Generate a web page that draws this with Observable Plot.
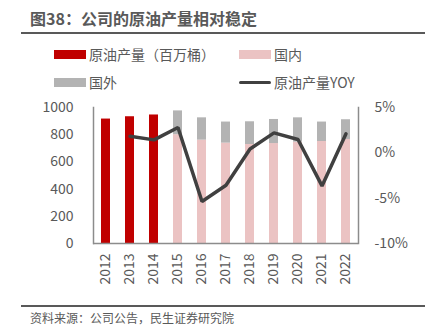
<!DOCTYPE html>
<html>
<head>
<meta charset="utf-8">
<script src="https://cdn.jsdelivr.net/npm/d3@7"></script>
<script src="https://cdn.jsdelivr.net/npm/@observablehq/plot@0.6"></script>
<style>
  body { margin: 0; background: #fff; }
  #wrap { position: relative; width: 425px; height: 325px; font-family: "Noto Sans CJK SC", "Noto Sans", sans-serif; color: #595959; overflow: hidden; }
  .abs { position: absolute; white-space: nowrap; }
  #title { left: 30px; top: 6px; font-size: 16px; font-weight: bold; color: #595959; line-height: 24px; }
  .hr { position: absolute; left: 21px; width: 404px; height: 0; border-top: 2px solid #595959; }
  .lg { position: absolute; font-size: 14px; line-height: 20px; color: #595959; }
  .sw { position: absolute; width: 32px; }
  #caption { left: 30px; top: 309px; font-size: 12px; line-height: 18px; color: #595959; }
  #chart { position: absolute; left: 0; top: 90px; }
</style>
</head>
<body>
<div id="wrap">
  <div id="title" class="abs"></div>
  <div class="hr" style="top:32px"></div>
  <div id="legend"></div>
  <div id="chart"></div>
  <div class="hr" style="top:305px"></div>
  <div id="caption" class="abs"></div>
</div>
<script>
const titleText = "图38：公司的原油产量相对稳定";
const captionText = "资料来源：公司公告，民生证券研究院";
const years = ["2012","2013","2014","2015","2016","2017","2018","2019","2020","2021","2022"];
// crude oil output (million barrels), only given as a single total for 2012-2014
const totalOutput = [915, 932, 945, null, null, null, null, null, null, null, null];
const domestic = [null, null, null, 800, 760, 738, 728, 735, 745, 750, 765];
const overseas = [null, null, null, 175, 164, 155, 167, 177, 179, 143, 145];
// YoY growth of crude output (%)
const yoy = [null, 1.84, 1.43, 2.8, -5.36, -3.58, 0.43, 2.2, 1.47, -3.65, 2.1];
const leftTicks = [0, 200, 400, 600, 800, 1000];
const rightTicks = [-10, -5, 0, 5];
const seriesNames = ["原油产量（百万桶）", "国内", "国外", "原油产量YOY"];
const colors = {red: "#C00000", pink: "#EBC3C3", gray: "#B3B3B3", line: "#404040", axis: "#8C8C8C", text: "#595959"};

document.getElementById("title").textContent = titleText;
document.getElementById("caption").textContent = captionText;

// legend
const legendItems = [
  {name: seriesNames[0], color: colors.red, type: "rect", x: 54, y: 54},
  {name: seriesNames[1], color: colors.pink, type: "rect", x: 239, y: 54},
  {name: seriesNames[2], color: colors.gray, type: "rect", x: 54, y: 82},
  {name: seriesNames[3], color: colors.line, type: "line", x: 239, y: 82}
];
const lg = document.getElementById("legend");
for (const it of legendItems) {
  const sw = document.createElement("div");
  sw.className = "sw";
  const h = it.type === "rect" ? 9 : 3;
  sw.style.left = it.x + "px";
  sw.style.top = (it.y - h / 2) + "px";
  sw.style.height = h + "px";
  sw.style.background = it.color;
  if (it.type === "line") sw.style.borderRadius = "2px";
  lg.appendChild(sw);
  const t = document.createElement("div");
  t.className = "lg";
  t.style.left = (it.x + 35) + "px";
  t.style.top = (it.y - 10) + "px";
  t.textContent = it.name;
  lg.appendChild(t);
}

const rows = years.map((year, i) => ({year, total: totalOutput[i], dom: domestic[i], ovs: overseas[i], yoy: yoy[i]}));
// map the right (percent) axis onto the left value scale: -10% -> 0, 5% -> 1000
const pctToY = p => (p + 10) / 15 * 1000;
const yToPct = v => Math.round(v * 15 / 1000 - 10);

const chart = Plot.plot({
  width: 425,
  height: 210,
  marginLeft: 93,
  marginRight: 67,
  marginTop: 17,
  marginBottom: 57,
  style: {fontFamily: "'Noto Sans CJK SC', 'Noto Sans', sans-serif", fontSize: "14px", color: colors.text, background: "transparent", overflow: "visible"},
  x: {domain: years, paddingInner: 0.62, paddingOuter: 0.31, axis: null},
  y: {domain: [0, 1000], axis: null},
  marks: [
    Plot.barY(rows.filter(d => d.total != null), {x: "year", y1: 0, y2: "total", fill: colors.red}),
    Plot.barY(rows.filter(d => d.dom != null), {x: "year", y1: 0, y2: "dom", fill: colors.pink}),
    Plot.barY(rows.filter(d => d.ovs != null), {x: "year", y1: "dom", y2: d => d.dom + d.ovs, fill: colors.gray}),
    Plot.frame({anchor: "left", stroke: colors.axis, strokeWidth: 1.5}),
    Plot.frame({anchor: "right", stroke: colors.axis, strokeWidth: 1.5}),
    Plot.ruleY([0], {stroke: colors.axis, strokeWidth: 1.5}),
    Plot.line(rows.filter(d => d.yoy != null), {x: "year", y: d => pctToY(d.yoy), stroke: colors.line, strokeWidth: 3.5, strokeLinejoin: "miter"}),
    Plot.axisX({anchor: "bottom", label: null, tickSize: 0, tickPadding: 10, tickRotate: -90, fontSize: 14, fill: colors.text}),
    Plot.axisY({anchor: "left", label: null, ticks: leftTicks, tickFormat: v => String(v), tickSize: 0, tickPadding: 20, fontSize: 14, fill: colors.text}),
    Plot.axisY({anchor: "right", label: null, ticks: rightTicks.map(pctToY), tickFormat: v => yToPct(v) + "%", tickSize: 0, tickPadding: 16, fontSize: 14, fill: colors.text})
  ]
});
document.getElementById("chart").appendChild(chart);
</script>
</body>
</html>
